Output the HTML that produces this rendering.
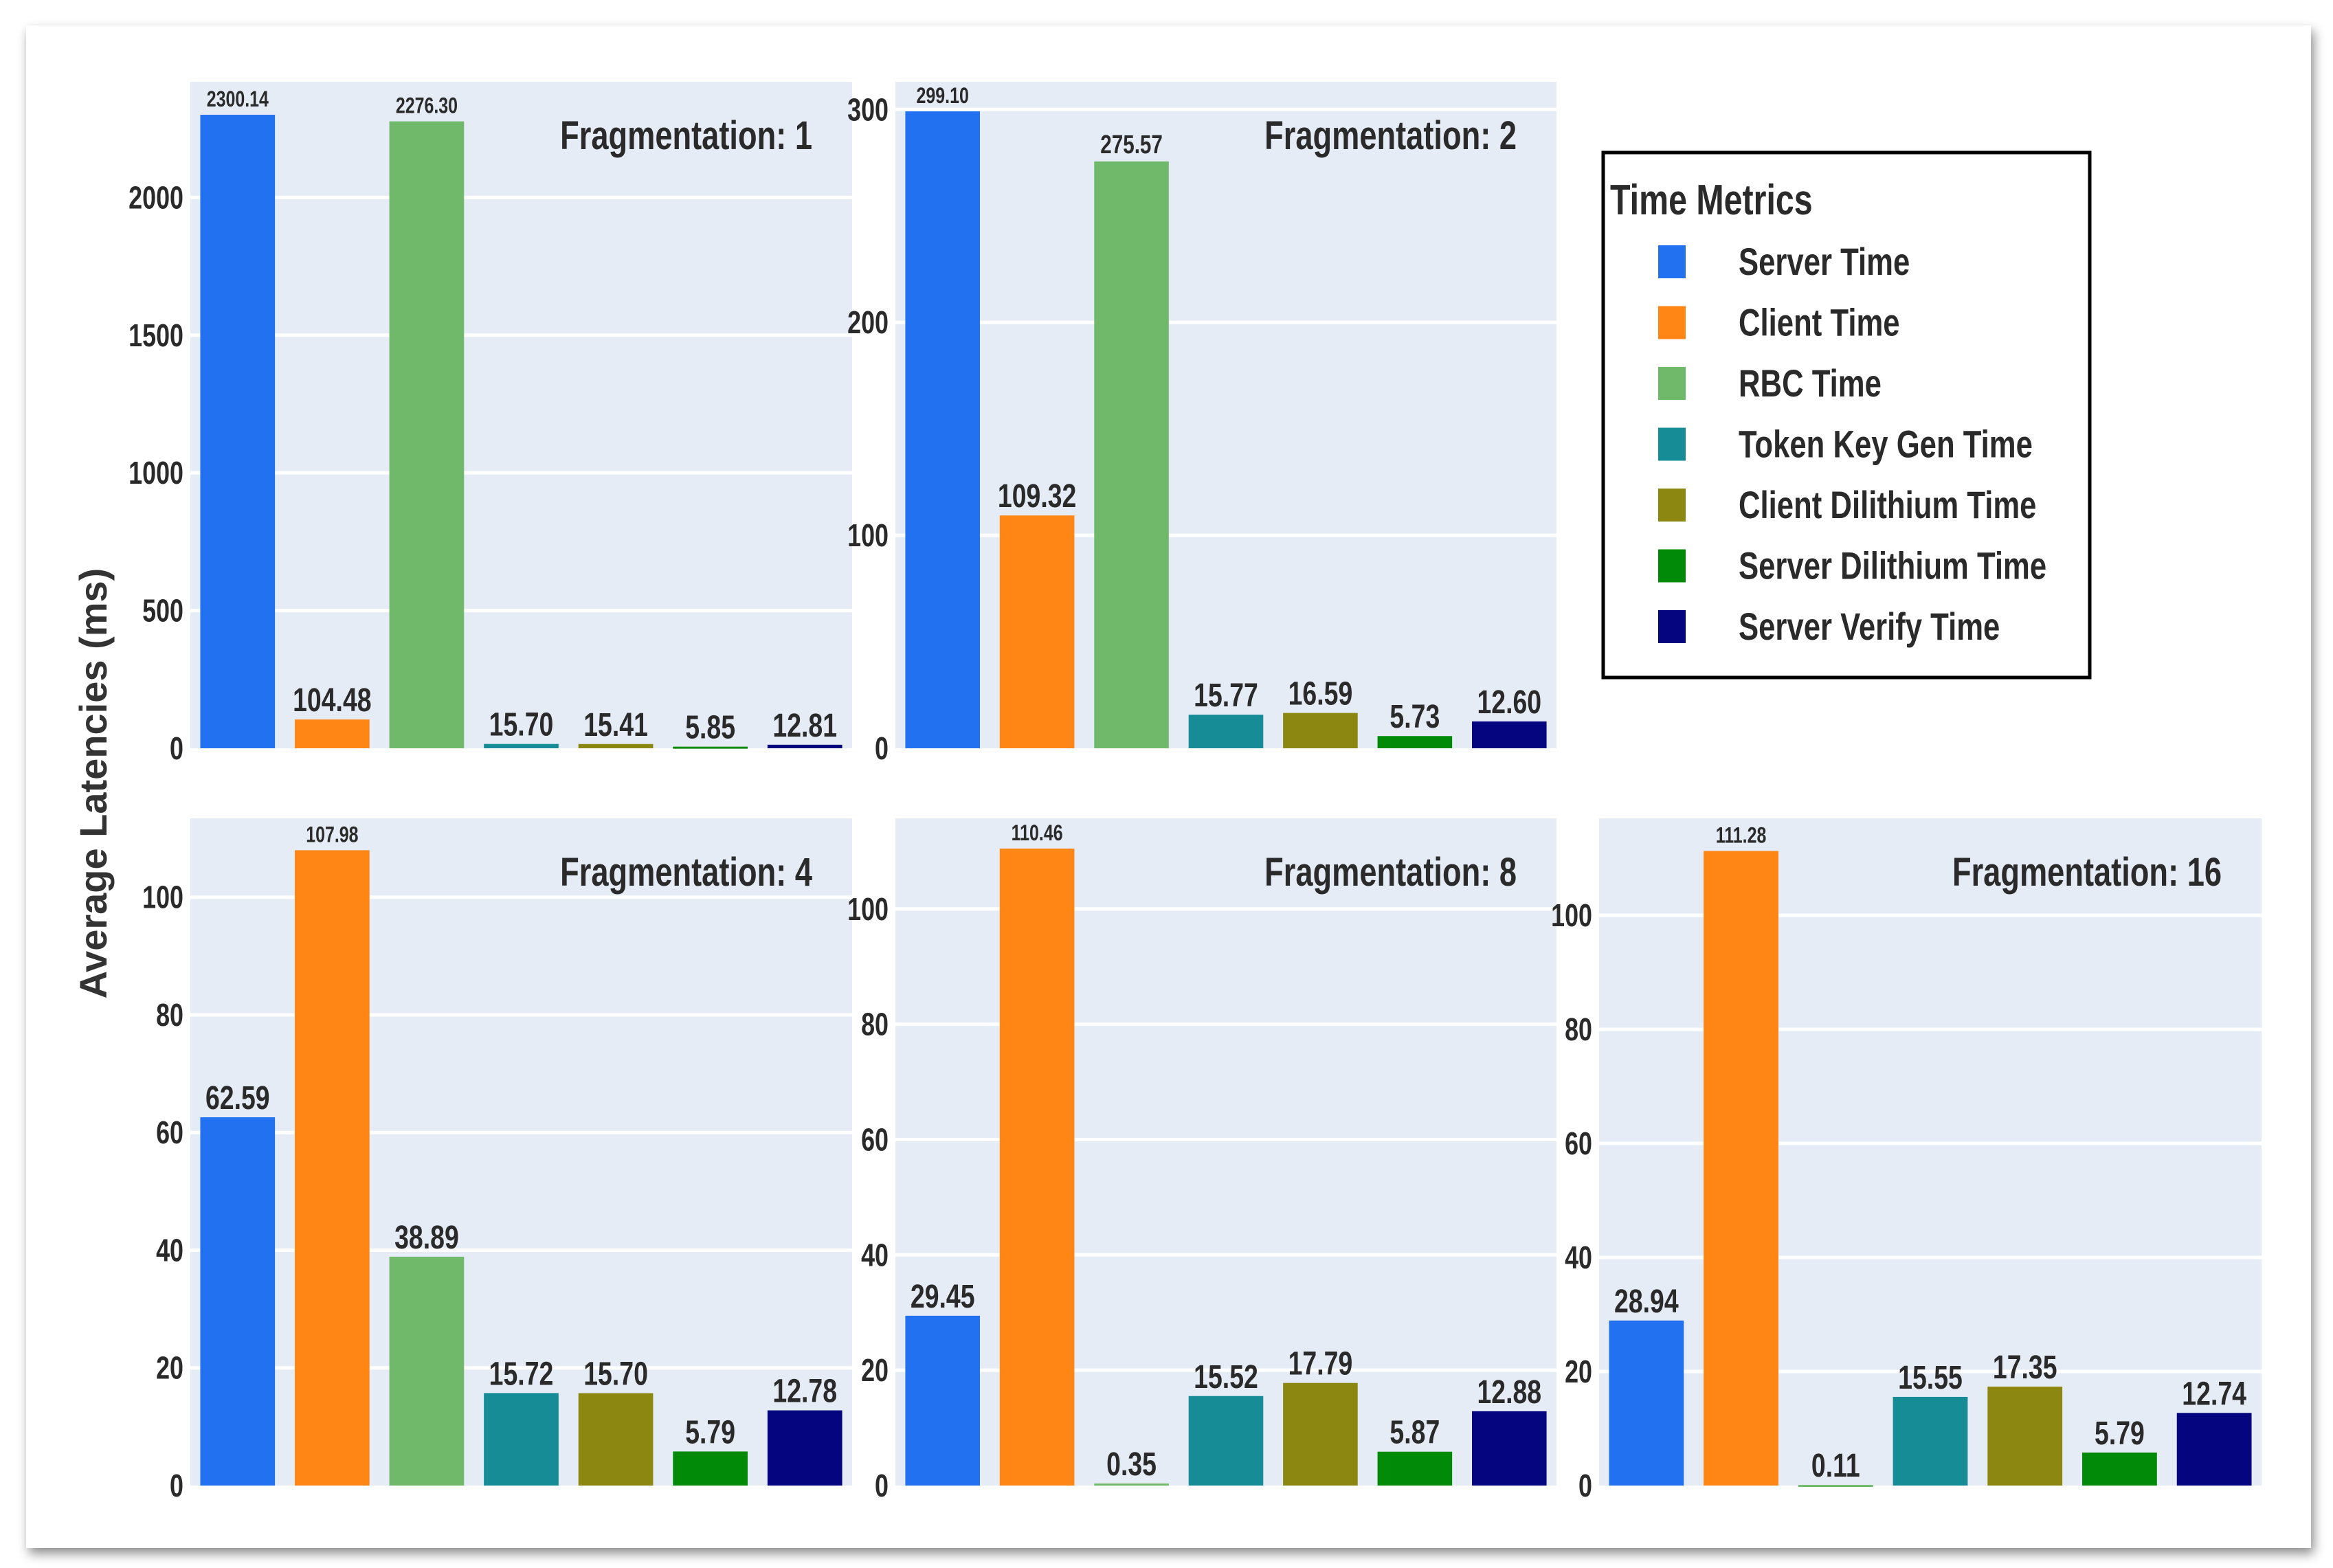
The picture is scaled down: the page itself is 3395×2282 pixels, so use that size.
<!DOCTYPE html>
<html><head><meta charset="utf-8"><style>
html,body{margin:0;padding:0;background:#fff;}
svg{display:block;}
text{font-family:"Liberation Sans Narrow","Liberation Sans",sans-serif;font-weight:bold;fill:#2a2a2a;}
</style></head><body>
<svg id="chart" width="3395" height="2282" viewBox="0 0 3395 2282" xmlns="http://www.w3.org/2000/svg">
<defs><filter id="sh" x="-5%" y="-5%" width="110%" height="110%"><feDropShadow dx="4" dy="8" stdDeviation="8" flood-color="#000" flood-opacity="0.45"/></filter></defs>
<rect x="38" y="37" width="3325" height="2216" fill="#fff" filter="url(#sh)"/>
<text transform="translate(155,1140) rotate(-90)" text-anchor="middle" style="font-family:'Liberation Sans',sans-serif;font-size:56px;fill:#333">Average Latencies (ms)</text>
<g id="panels"></g>
<g id="legend">
<rect x="2333" y="222" width="708" height="764" fill="#fff" stroke="#000" stroke-width="5"/>
<text transform="translate(2343,312) scale(0.78,1)" style="font-size:62px">Time Metrics</text>
</g>
</svg>
<script>
const series = ["Server Time","Client Time","RBC Time","Token Key Gen Time","Client Dilithium Time","Server Dilithium Time","Server Verify Time"];
const colors = ["#2171F0","#FF8514","#70B96A","#168C96","#8C8710","#008A08","#04057F"];
const panelTitles = ["Fragmentation: 1","Fragmentation: 2","Fragmentation: 4","Fragmentation: 8","Fragmentation: 16"];
const frag1 = [2300.14,104.48,2276.30,15.70,15.41,5.85,12.81];
const frag2 = [299.10,109.32,275.57,15.77,16.59,5.73,12.60];
const frag4 = [62.59,107.98,38.89,15.72,15.70,5.79,12.78];
const frag8 = [29.45,110.46,0.35,15.52,17.79,5.87,12.88];
const frag16 = [28.94,111.28,0.11,15.55,17.35,5.79,12.74];
const yMax = [2420,313,113.4,115.7,117];
const ticks1 = [0,500,1000,1500,2000];
const ticks2 = [0,100,200,300];
const ticksSmall = [0,20,40,60,80,100];

const NS="http://www.w3.org/2000/svg";
const SX=0.78;
const root=document.getElementById('panels');
const layout=[{x:277,w:963,top:119,zero:1089},{x:1303,w:962,top:119,zero:1089},
 {x:277,w:963,top:1191,zero:2162},{x:1303,w:962,top:1191,zero:2162},{x:2327,w:964,top:1191,zero:2162}];
const datas=[frag1,frag2,frag4,frag8,frag16];
const tickSets=[ticks1,ticks2,ticksSmall,ticksSmall,ticksSmall];
function mk(tag,attrs,parent){const e=document.createElementNS(NS,tag);for(const k in attrs)e.setAttribute(k,attrs[k]);parent.appendChild(e);return e;}
function txt(x,y,anchor,fs,parent){return mk('text',{transform:'translate('+x+','+y+') scale('+SX+',1)','text-anchor':anchor,'font-size':fs},parent);}
datas.forEach((vals,p)=>{
  const L=layout[p];
  const g=mk('g',{},root);
  
  
  const y=v=>L.zero-(v/yMax[p])*(L.zero-L.top);
  const bg=mk('rect',{x:L.x,y:L.top,width:L.w,height:L.zero-L.top,fill:'#E5ECF6'},g);
  
  
  tickSets[p].forEach(t=>{
    if(t>0){const gl=mk('line',{x1:L.x,x2:L.x+L.w,y1:y(t),y2:y(t),stroke:'#fff','stroke-width':5},g);
      
      }
    const tl=txt(L.x-10,y(t)+16,'end',46,g);
    
    
    tl.textContent=String(t);
  });
  const band=L.w/vals.length, bw=band*0.79;
  vals.forEach((v,i)=>{
    const cx=L.x+band*(i+0.5);
    const top=y(v);
    const r=mk('rect',{x:cx-bw/2,y:top,width:bw,height:Math.max(L.zero-top,3),fill:colors[i]},g);
    
    
    const lbl=v.toFixed(2);
    let fs=48;
    if(top-L.top<60) fs=32; else if(top-L.top<300 && lbl.length>=6) fs=38;
    const t=txt(cx,top-12,'middle',fs,g);
    
    
    t.textContent=lbl;
  });
  const tt=txt(L.x+L.w-58,L.top+98,'end',58,g);
  
  
  tt.textContent=panelTitles[p];
});
const lg=document.getElementById('legend');
series.forEach((s,i)=>{
  const cy=381+i*88.5;
  const sw=mk('rect',{x:2413,y:cy-24,width:40,height:48,fill:colors[i]},lg);
  
  
  const t=txt(2530,cy+19,'start',56,lg);
  
  
  t.textContent=s;
});
</script>
</body></html>
